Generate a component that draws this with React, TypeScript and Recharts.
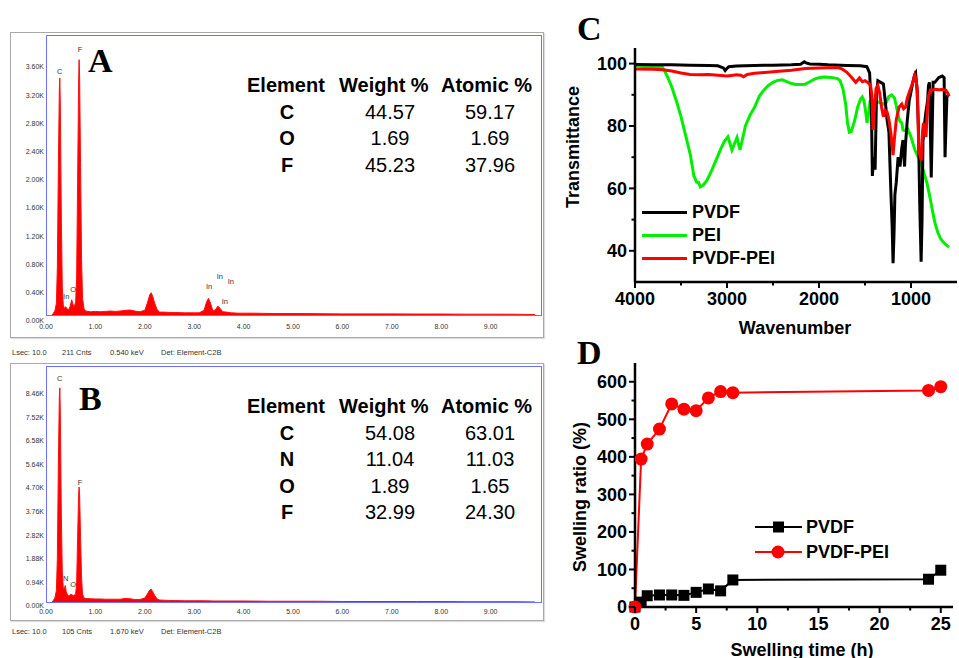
import React from 'react';
import { AreaChart, Area, LineChart, Line, XAxis, YAxis, ReferenceDot } from 'recharts';

// ---------- EDS spectrum A (keV, counts in K) ----------
const kevA = [
  0.1, 0.14, 0.18, 0.21, 0.23, 0.25, 0.27, 0.28, 0.29, 0.31,
  0.33, 0.35, 0.37, 0.4, 0.43, 0.46, 0.49, 0.52, 0.54, 0.57,
  0.6, 0.62, 0.64, 0.66, 0.67, 0.68, 0.7, 0.72, 0.74, 0.77,
  0.8, 0.9, 1.0, 1.1, 1.2, 1.3, 1.4, 1.5, 1.6, 1.7,
  1.8, 1.9, 2.0, 2.05, 2.1, 2.13, 2.16, 2.2, 2.25, 2.3,
  2.4, 2.5, 2.6, 2.8, 3.0, 3.1, 3.2, 3.25, 3.29, 3.33,
  3.38, 3.43, 3.48, 3.52, 3.58, 3.65, 3.75, 3.9, 4.2, 4.6,
  5.0, 5.5, 6.0, 6.5, 7.0, 7.5, 8.0, 8.5, 9.0, 9.5,
  9.9,
];
const countsA = [
  0, 0.03, 0.07, 0.18, 0.7, 2.1, 3.2, 3.37, 3.0, 1.4,
  0.4, 0.16, 0.11, 0.13, 0.1, 0.09, 0.14, 0.23, 0.18, 0.12,
  0.2, 0.55, 1.9, 3.3, 3.63, 3.4, 2.1, 0.8, 0.25, 0.1,
  0.07, 0.06, 0.065, 0.06, 0.065, 0.07, 0.065, 0.07, 0.08, 0.085,
  0.07, 0.06, 0.08, 0.18, 0.3, 0.33, 0.28, 0.18, 0.09, 0.055,
  0.055, 0.05, 0.05, 0.045, 0.045, 0.045, 0.08, 0.2, 0.25, 0.18,
  0.07, 0.09, 0.14, 0.11, 0.06, 0.055, 0.045, 0.04, 0.04, 0.035,
  0.035, 0.033, 0.03, 0.03, 0.03, 0.028, 0.028, 0.026, 0.026, 0.025,
  0.02,
];
const yTicksA = [0, 0.4, 0.8, 1.2, 1.6, 2.0, 2.4, 2.8, 3.2, 3.6];
const peakLabelsA = [
  { text: 'C', kev: 0.28, k: 3.47 },
  { text: 'F', kev: 0.69, k: 3.78 },
  { text: 'In', kev: 0.41, k: 0.28 },
  { text: 'O', kev: 0.55, k: 0.38 },
  { text: 'In', kev: 3.3, k: 0.42 },
  { text: 'In', kev: 3.52, k: 0.56 },
  { text: 'In', kev: 3.74, k: 0.49 },
  { text: 'In', kev: 3.62, k: 0.21 },
];
const elementsA = ['C', 'O', 'F'];
const weightA = ['44.57', '1.69', '45.23'];
const atomicA = ['59.17', '1.69', '37.96'];

// ---------- EDS spectrum B ----------
const kevB = [
  0.1, 0.14, 0.18, 0.21, 0.23, 0.25, 0.27, 0.28, 0.29, 0.31,
  0.33, 0.35, 0.37, 0.39, 0.41, 0.44, 0.47, 0.5, 0.53, 0.56,
  0.6, 0.62, 0.64, 0.66, 0.67, 0.68, 0.7, 0.72, 0.74, 0.77,
  0.8, 0.9, 1.0, 1.1, 1.2, 1.3, 1.4, 1.5, 1.6, 1.7,
  1.8, 1.9, 2.0, 2.05, 2.1, 2.13, 2.16, 2.2, 2.25, 2.3,
  2.4, 2.5, 2.6, 2.8, 3.0, 3.2, 3.4, 3.6, 3.8, 4.0,
  4.5, 5.0, 5.5, 6.0, 6.5, 7.0, 7.5, 8.0, 8.5, 9.0,
  9.5, 9.9,
];
const countsB = [
  0, 0.08, 0.2, 0.5, 1.8, 5.5, 8.2, 8.57, 7.6, 3.5,
  1.2, 0.6, 0.55, 0.7, 0.45, 0.3, 0.28, 0.35, 0.32, 0.3,
  0.35, 0.8, 2.6, 4.3, 4.62, 4.3, 2.6, 1.0, 0.35, 0.2,
  0.18, 0.17, 0.16, 0.16, 0.15, 0.15, 0.15, 0.15, 0.18, 0.17,
  0.14, 0.14, 0.2, 0.35, 0.52, 0.55, 0.45, 0.3, 0.16, 0.12,
  0.11, 0.1, 0.1, 0.09, 0.09, 0.09, 0.08, 0.08, 0.08, 0.08,
  0.07, 0.07, 0.07, 0.06, 0.06, 0.06, 0.06, 0.06, 0.05, 0.05,
  0.05, 0.04,
];
const yTicksB = [0, 0.94, 1.88, 2.82, 3.76, 4.7, 5.64, 6.58, 7.52, 8.46];
const peakLabelsB = [
  { text: 'C', kev: 0.28, k: 8.96 },
  { text: 'F', kev: 0.69, k: 4.82 },
  { text: 'N', kev: 0.4, k: 1.0 },
  { text: 'O', kev: 0.55, k: 0.76 },
];
const elementsB = ['C', 'N', 'O', 'F'];
const weightB = ['54.08', '11.04', '1.89', '32.99'];
const atomicB = ['63.01', '11.03', '1.65', '24.30'];

const kevTicks = [0, 1, 2, 3, 4, 5, 6, 7, 8, 9];

// ---------- FTIR (panel C) ----------
const pvdfWn = [
  4000, 3800, 3600, 3400, 3200, 3100, 3040, 3020, 3000, 2980,
  2900, 2700, 2500, 2300, 2200, 2160, 2140, 2100, 2000, 1900,
  1700, 1550, 1480, 1450, 1430, 1420, 1405, 1390, 1375, 1360,
  1330, 1300, 1280, 1260, 1240, 1220, 1205, 1195, 1185, 1175,
  1160, 1140, 1120, 1100, 1087, 1070, 1060, 1040, 1020, 1000,
  980, 960, 950, 935, 920, 905, 890, 880, 870, 855,
  840, 820, 810, 800, 790, 780, 770, 760, 740, 700,
  660, 640, 630, 620, 610, 600,
];
const pvdfT = [
  99.7, 99.6, 99.6, 99.5, 99.4, 99.3, 98.6, 97.8, 98.5, 99.0,
  99.2, 99.4, 99.5, 99.6, 99.8, 100.6, 100.2, 99.9, 99.8, 99.6,
  99.4, 99.3, 99.0, 97.0, 85.0, 64.0, 70.0, 66.0, 90.0, 94.5,
  94.0, 93.5, 88.0, 82.0, 78.0, 60.0, 48.0, 36.0, 45.0, 58.0,
  62.0, 70.0, 67.0, 73.0, 75.5, 67.0, 74.0, 82.0, 88.0, 91.0,
  94.0, 96.5, 97.0, 92.0, 80.0, 55.0, 36.5, 50.0, 75.0, 80.0,
  84.0, 88.0, 93.0, 94.0, 80.0, 63.5, 78.0, 94.0, 94.0, 95.5,
  96.0, 95.5, 70.0, 80.0, 89.0, 90.0,
];
const peiWn = [
  4000, 3900, 3800, 3700, 3650, 3600, 3550, 3500, 3450, 3400,
  3360, 3330, 3310, 3290, 3260, 3220, 3170, 3120, 3070, 3030,
  2990, 2946, 2891, 2859, 2830, 2800, 2750, 2700, 2650, 2600,
  2550, 2500, 2450, 2400, 2350, 2300, 2250, 2200, 2150, 2100,
  2050, 2000, 1950, 1900, 1850, 1800, 1770, 1740, 1710, 1690,
  1670, 1650, 1630, 1610, 1580, 1550, 1530, 1510, 1490, 1478,
  1460, 1445, 1420, 1380, 1340, 1300, 1270, 1240, 1210, 1180,
  1160, 1140, 1120, 1100, 1087, 1060, 1040, 1020, 1000, 980,
  957, 930, 900, 870, 850, 826, 800, 780, 761, 740,
  720, 706, 680, 650, 630, 600, 585,
];
const peiT = [
  99.3, 99.1, 99.0, 98.8, 96.0, 92.5, 88.0, 83.0, 77.0, 71.0,
  64.0, 62.0, 62.0, 60.5, 61.0, 62.5, 65.5, 69.0, 72.5, 75.0,
  76.5, 72.3, 76.3, 72.3, 76.0, 80.0, 83.5, 86.0, 89.5, 91.5,
  93.0, 94.0, 94.6, 94.8, 94.2, 93.6, 93.3, 93.3, 93.4, 94.2,
  95.0, 95.5, 95.7, 95.6, 95.5, 95.2, 94.5, 92.0, 87.0, 81.0,
  78.0, 78.2, 80.0, 82.0, 86.0, 88.5, 89.3, 88.0, 84.0, 81.0,
  84.0, 88.0, 88.5, 88.0, 87.5, 87.0, 87.5, 89.5, 90.0, 89.0,
  86.5, 83.5, 81.5, 81.0, 78.7, 78.5, 79.3, 78.0, 76.5, 74.5,
  72.3, 70.5, 69.0, 66.0, 64.0, 61.7, 58.0, 55.0, 52.0, 49.0,
  47.0, 45.7, 44.0, 42.8, 42.2, 41.5, 41.2,
];
const blendWn = [
  4000, 3800, 3700, 3600, 3500, 3400, 3300, 3200, 3100, 3000,
  2950, 2900, 2850, 2820, 2780, 2700, 2500, 2300, 2150, 2000,
  1900, 1800, 1750, 1700, 1650, 1600, 1560, 1530, 1500, 1470,
  1440, 1425, 1413, 1400, 1380, 1360, 1340, 1320, 1300, 1280,
  1260, 1240, 1220, 1205, 1195, 1180, 1160, 1130, 1100, 1080,
  1060, 1040, 1010, 980, 960, 945, 930, 915, 900, 888,
  875, 865, 850, 837, 825, 810, 790, 770, 740, 700,
  660, 620, 600, 585,
];
const blendT = [
  98.3, 98.2, 98.0, 97.6, 97.0, 96.5, 96.4, 96.5, 96.3, 96.0,
  96.2, 96.4, 96.3, 95.8, 96.5, 96.9, 97.4, 97.9, 98.4, 98.6,
  98.7, 98.7, 98.3, 97.3, 95.7, 94.0, 95.4, 94.2, 94.5, 94.0,
  93.0, 90.0, 78.7, 84.0, 92.0, 93.0, 90.5, 86.0, 83.0, 85.0,
  84.5, 82.0, 78.0, 74.0, 70.7, 76.0, 82.0, 86.0, 87.0, 85.5,
  86.0, 89.0, 91.5, 94.0, 96.3, 95.0, 91.0, 72.0, 70.0, 69.0,
  78.0, 81.0, 78.0, 76.5, 84.0, 89.5, 91.5, 91.5, 91.8, 91.6,
  91.7, 91.4, 90.5, 89.5,
];

// ---------- Swelling (panel D) ----------
const swellTime = [0, 0.5, 1, 2, 3, 4, 5, 6, 7, 8, 24, 25];
const swellPvdf = [0, 13, 30, 32, 32, 31, 39, 48, 43, 72, 74, 98];
const swellBlend = [0, 394, 434, 474, 541, 527, 523, 557, 574, 571, 577, 587];

const SANS = '"Liberation Sans", Arial, sans-serif';
const SERIF = '"Liberation Serif", "Times New Roman", serif';

const EdsYTick = (p: any) => (
  <text x={p.x - 2} y={p.y + p.shift} dy="0.35em" textAnchor="end" fontSize={7} fill="#333" fontFamily={SANS}>
    {`${Number(p.payload.value).toFixed(2)}K`}
  </text>
);

const EdsXTick = (p: any) => (
  <text x={p.x} y={p.y + p.shift} dy="0.35em" textAnchor="middle" fontSize={7} fill="#333" fontFamily={SANS}>
    {Number(p.payload.value).toFixed(2)}
  </text>
);

const OriginYTick = (p: any) => {
  const major = p.majors.includes(p.payload.value);
  return (
    <g>
      <line x1={p.x} x2={p.x - (major ? 6 : 3.5)} y1={p.y} y2={p.y} stroke="#000" strokeWidth={2} />
      {major && (
        <text x={p.x - 8} y={p.y} dy="0.36em" textAnchor="end" fontSize={18} fontWeight="bold" fontFamily={SANS} fill="#000">
          {p.payload.value}
        </text>
      )}
    </g>
  );
};

const OriginXTick = (p: any) => {
  const major = p.majors.includes(p.payload.value);
  return (
    <g>
      <line x1={p.x} x2={p.x} y1={p.y} y2={p.y + (major ? 6 : 3.5)} stroke="#000" strokeWidth={2} />
      {major && (
        <text x={p.x} y={p.y + 23} textAnchor="middle" fontSize={18} fontWeight="bold" fontFamily={SANS} fill="#000">
          {p.payload.value}
        </text>
      )}
    </g>
  );
};

interface EdsProps {
  top: number;
  height: number;
  marginTop: number;
  xAxisHeight: number;
  kev: number[];
  counts: number[];
  yTop: number;
  yTicks: number[];
  yShift: number;
  xShift: number;
  labels: { text: string; kev: number; k: number }[];
}

const EdsSpectrum: React.FC<EdsProps> = (props) => {
  const data = props.kev.map((k, i) => ({ kev: k, c: props.counts[i] }));
  return (
    <div style={{ position: 'absolute', left: 0, top: props.top }}>
      <AreaChart width={560} height={props.height} data={data} margin={{ top: props.marginTop, right: 18, left: 10, bottom: 0 }}>
        <XAxis
          type="number"
          dataKey="kev"
          domain={[0, 10.04]}
          ticks={kevTicks}
          interval={0}
          height={props.xAxisHeight}
          axisLine={false}
          tickLine={false}
          tickSize={0}
          tickMargin={0}
          tick={<EdsXTick shift={props.xShift} />}
        />
        <YAxis
          type="number"
          domain={[0, props.yTop]}
          ticks={props.yTicks}
          interval={0}
          width={36}
          axisLine={false}
          tickLine={false}
          tickSize={0}
          tickMargin={0}
          tick={<EdsYTick shift={props.yShift} />}
        />
        <Area
          type="linear"
          dataKey="c"
          stroke="#ff1010"
          strokeWidth={1}
          fill="#ff0000"
          fillOpacity={1}
          isAnimationActive={false}
          dot={false}
          activeDot={false}
        />
        {props.labels.map((l, i) => (
          <ReferenceDot
            key={i}
            x={l.kev}
            y={l.k}
            r={0}
            shape={(s: any) => (
              <text x={s.cx} y={s.cy} dy="0.35em" textAnchor="middle" fontSize={7.5} fill="#333" fontFamily={SANS}>
                {l.text}
              </text>
            )}
          />
        ))}
      </AreaChart>
    </div>
  );
};

const absText = (left: number, top: number, extra: React.CSSProperties = {}): React.CSSProperties => ({
  position: 'absolute',
  left,
  top,
  whiteSpace: 'nowrap',
  ...extra,
});

const ElementTable: React.FC<{ top: number; elements: string[]; weight: string[]; atomic: string[] }> = ({ top, elements, weight, atomic }) => {
  const rowH = 26.5;
  const cell = (left: number, width: number, row: number, text: string, bold: boolean) => (
    <div
      key={`${left}-${row}`}
      style={{
        position: 'absolute',
        left,
        top: top + row * rowH - 12,
        width,
        textAlign: 'center',
        fontSize: 20,
        lineHeight: '24px',
        fontWeight: bold ? 'bold' : 'normal',
        fontFamily: SANS,
        color: '#000',
      }}
    >
      {text}
    </div>
  );
  const head = { fontSize: 20, lineHeight: '24px', fontWeight: 'bold' as const, fontFamily: SANS };
  return (
    <>
      <div style={absText(247, top - 12, head)}>Element</div>
      <div style={absText(339, top - 12, head)}>Weight %</div>
      <div style={absText(441, top - 12, head)}>Atomic %</div>
      {elements.map((e, i) => cell(247, 80, i + 1, e, true))}
      {weight.map((w, i) => cell(340, 100, i + 1, w, false))}
      {atomic.map((a, i) => cell(440, 100, i + 1, a, false))}
    </>
  );
};

const Footer: React.FC<{ top: number; cnts: string; kev: string }> = ({ top, cnts, kev }) => {
  const st = { fontSize: 7.5, fontFamily: SANS, color: '#333', lineHeight: '10px' };
  return (
    <>
      <div style={absText(12, top - 5, st)}>Lsec: 10.0</div>
      <div style={absText(62, top - 5, st)}>{cnts}</div>
      <div style={absText(110, top - 5, st)}>{kev}</div>
      <div style={absText(161, top - 5, st)}>Det: Element-C2B</div>
    </>
  );
};

const PanelLetter: React.FC<{ left: number; top: number; letter: string }> = ({ left, top, letter }) => (
  <div style={absText(left, top, { fontSize: 34, lineHeight: '34px', fontWeight: 'bold', fontFamily: SERIF, color: '#000' })}>
    {letter}
  </div>
);

const App: React.FC = () => {
  const pvdfData = pvdfWn.map((w, i) => ({ wn: w, t: pvdfT[i] }));
  const peiData = peiWn.map((w, i) => ({ wn: w, t: peiT[i] }));
  const blendData = blendWn.map((w, i) => ({ wn: w, t: blendT[i] }));
  const dPvdf = swellTime.map((t, i) => ({ h: t, r: swellPvdf[i] }));
  const dBlend = swellTime.map((t, i) => ({ h: t, r: swellBlend[i] }));

  const legendText = { fontSize: 18, fontWeight: 'bold' as const, fontFamily: SANS, lineHeight: '20px', color: '#000' };

  return (
    <div style={{ position: 'absolute', left: 0, top: 0, width: 959, height: 658, background: '#fff', overflow: 'hidden', fontFamily: SANS }}>
      {/* EDS frames */}
      <div style={{ position: 'absolute', left: 10, top: 32, width: 534, height: 306, border: '1.5px solid #a9a9a9', boxSizing: 'border-box', boxShadow: '1px 1px 1px #ddd' }} />
      <div style={{ position: 'absolute', left: 10, top: 363, width: 534, height: 258, border: '1.5px solid #a9a9a9', boxSizing: 'border-box', boxShadow: '1px 1px 1px #ddd' }} />

      <EdsSpectrum
        top={0}
        height={345}
        marginTop={35}
        xAxisHeight={29}
        kev={kevA}
        counts={countsA}
        yTop={3.98}
        yTicks={yTicksA}
        yShift={5}
        xShift={11}
        labels={peakLabelsA}
      />
      <EdsSpectrum
        top={345}
        height={290}
        marginTop={21}
        xAxisHeight={32}
        kev={kevB}
        counts={countsB}
        yTop={9.44}
        yTicks={yTicksB}
        yShift={3}
        xShift={9}
        labels={peakLabelsB}
      />
      <div style={{ position: 'absolute', left: 46, top: 35, width: 496, height: 281, border: '1px solid #6f6fff', boxSizing: 'border-box', pointerEvents: 'none' }} />
      <div style={{ position: 'absolute', left: 46, top: 366, width: 496, height: 237, border: '1px solid #6f6fff', boxSizing: 'border-box', pointerEvents: 'none' }} />

      <Footer top={353} cnts="211 Cnts" kev="0.540 keV" />
      <Footer top={632} cnts="105 Cnts" kev="1.670 keV" />

      <PanelLetter left={88} top={44} letter="A" />
      <PanelLetter left={79} top={382} letter="B" />
      <ElementTable top={85} elements={elementsA} weight={weightA} atomic={atomicA} />
      <ElementTable top={406} elements={elementsB} weight={weightB} atomic={atomicB} />

      {/* Panel C: FTIR */}
      <PanelLetter left={577} top={12} letter="C" />
      <div style={{ position: 'absolute', left: 555, top: 0 }}>
        <LineChart width={404} height={340} margin={{ top: 48, right: 2, left: 0, bottom: 0 }}>
          <XAxis
            type="number"
            dataKey="wn"
            domain={[500, 4000]}
            reversed
            ticks={[4000, 3500, 3000, 2500, 2000, 1500, 1000]}
            interval={0}
            height={58}
            axisLine={{ stroke: '#000', strokeWidth: 2.5 }}
            tickLine={false}
            tickSize={0}
            tickMargin={0}
            tick={<OriginXTick majors={[4000, 3000, 2000, 1000]} />}
          />
          <YAxis
            type="number"
            dataKey="t"
            domain={[30, 105]}
            ticks={[40, 50, 60, 70, 80, 90, 100]}
            interval={0}
            width={80}
            axisLine={{ stroke: '#000', strokeWidth: 2.5 }}
            tickLine={false}
            tickSize={0}
            tickMargin={0}
            tick={<OriginYTick majors={[40, 60, 80, 100]} />}
          />
          <Line data={peiData} dataKey="t" type="linear" stroke="#00ee00" strokeWidth={3} dot={false} activeDot={false} isAnimationActive={false} />
          <Line data={pvdfData} dataKey="t" type="linear" stroke="#000" strokeWidth={3} dot={false} activeDot={false} isAnimationActive={false} />
          <Line data={blendData} dataKey="t" type="linear" stroke="#ff0000" strokeWidth={3} dot={false} activeDot={false} isAnimationActive={false} />
        </LineChart>
      </div>
      <div style={absText(573, 147, { transform: 'translate(-50%, -50%) rotate(-90deg)', fontSize: 18, fontWeight: 'bold', fontFamily: SANS })}>
        Transmittance
      </div>
      <div style={absText(795, 328, { transform: 'translate(-50%, -50%)', fontSize: 18, fontWeight: 'bold', fontFamily: SANS })}>
        Wavenumber
      </div>
      {[
        { name: 'PVDF', color: '#000', y: 212 },
        { name: 'PEI', color: '#00ee00', y: 235 },
        { name: 'PVDF-PEI', color: '#ff0000', y: 258 },
      ].map((l) => (
        <React.Fragment key={l.name}>
          <div style={{ position: 'absolute', left: 642, top: l.y - 1.5, width: 45, height: 3, background: l.color }} />
          <div style={absText(692, l.y - 10, legendText)}>{l.name}</div>
        </React.Fragment>
      ))}

      {/* Panel D: swelling */}
      <PanelLetter left={577} top={336} letter="D" />
      <div style={{ position: 'absolute', left: 555, top: 340 }}>
        <LineChart width={404} height={318} margin={{ top: 23, right: 6, left: 0, bottom: 0 }}>
          <XAxis
            type="number"
            dataKey="h"
            domain={[0, 26]}
            ticks={[0, 2.5, 5, 7.5, 10, 12.5, 15, 17.5, 20, 22.5, 25]}
            interval={0}
            height={51}
            axisLine={{ stroke: '#000', strokeWidth: 2.5 }}
            tickLine={false}
            tickSize={0}
            tickMargin={0}
            tick={<OriginXTick majors={[0, 5, 10, 15, 20, 25]} />}
          />
          <YAxis
            type="number"
            dataKey="r"
            domain={[0, 650]}
            ticks={[0, 50, 100, 150, 200, 250, 300, 350, 400, 450, 500, 550, 600]}
            interval={0}
            width={80}
            axisLine={{ stroke: '#000', strokeWidth: 2.5 }}
            tickLine={false}
            tickSize={0}
            tickMargin={0}
            tick={<OriginYTick majors={[0, 100, 200, 300, 400, 500, 600]} />}
          />
          <Line
            data={dPvdf}
            dataKey="r"
            type="linear"
            stroke="#000"
            strokeWidth={2}
            isAnimationActive={false}
            activeDot={false}
            dot={(p: any) => <rect key={`s${p.index}`} x={p.cx - 5.5} y={p.cy - 5.5} width={11} height={11} fill="#000" />}
          />
          <Line
            data={dBlend}
            dataKey="r"
            type="linear"
            stroke="#ff0000"
            strokeWidth={2}
            isAnimationActive={false}
            activeDot={false}
            dot={{ r: 6.5, fill: '#ff0000', stroke: '#ff0000', strokeWidth: 0 }}
          />
        </LineChart>
      </div>
      <div style={absText(580, 497, { transform: 'translate(-50%, -50%) rotate(-90deg)', fontSize: 18, fontWeight: 'bold', fontFamily: SANS })}>
        Swelling ratio (%)
      </div>
      <div style={absText(802, 650, { transform: 'translate(-50%, -50%)', fontSize: 18, fontWeight: 'bold', fontFamily: SANS })}>
        Swelling time (h)
      </div>
      <svg style={{ position: 'absolute', left: 750, top: 515 }} width={60} height={50}>
        <line x1={5} x2={52} y1={12} y2={12} stroke="#000" strokeWidth={2} />
        <rect x={23} y={6.5} width={11} height={11} fill="#000" />
        <line x1={5} x2={52} y1={37} y2={37} stroke="#ff0000" strokeWidth={2} />
        <circle cx={28} cy={37} r={6.5} fill="#ff0000" />
      </svg>
      <div style={absText(806, 517, legendText)}>PVDF</div>
      <div style={absText(806, 542, legendText)}>PVDF-PEI</div>
    </div>
  );
};

export default App;
